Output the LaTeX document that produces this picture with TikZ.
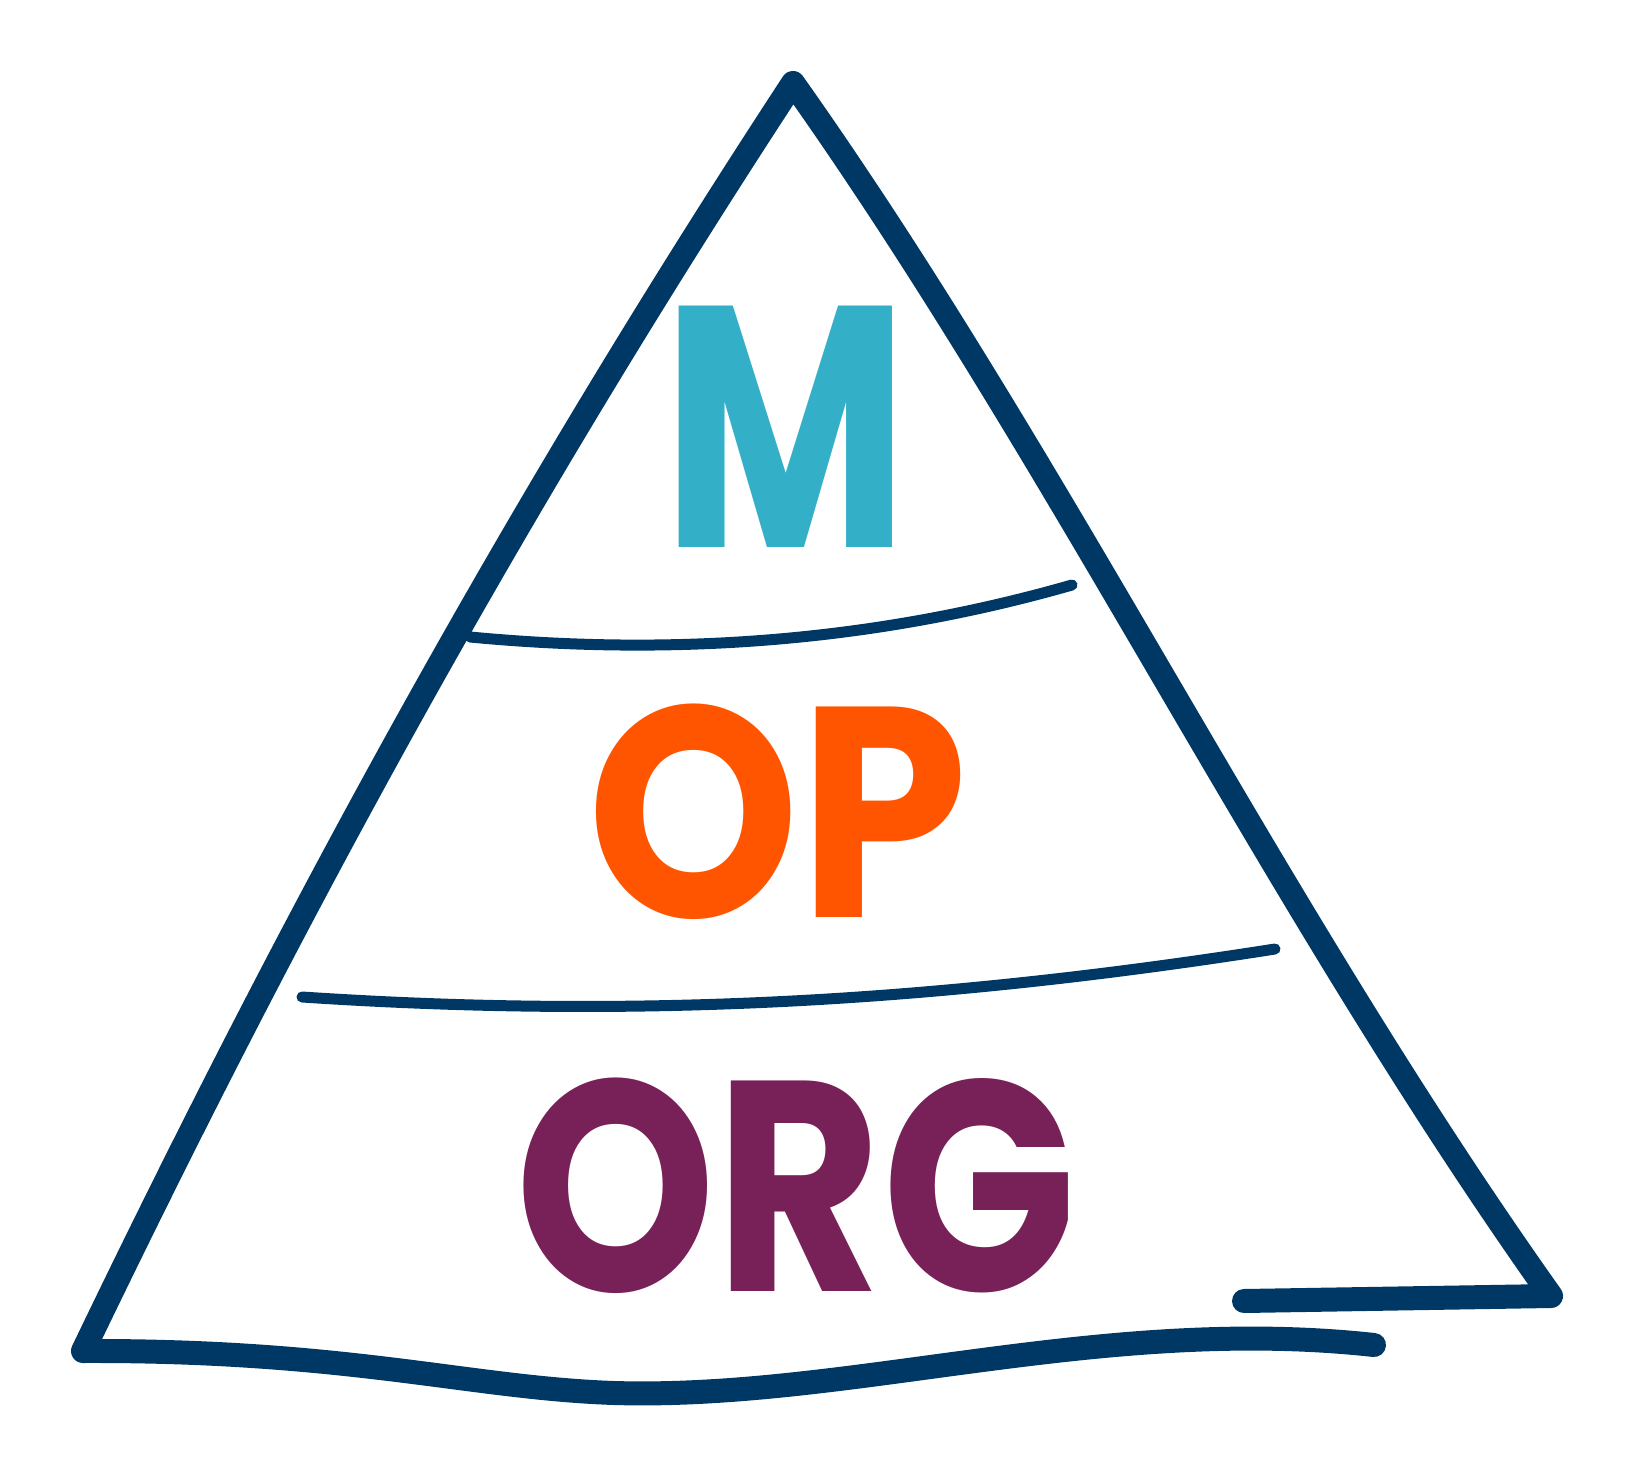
\documentclass[tikz,border=0pt]{standalone}
\usepackage{fontspec}
\setmainfont{Poppins}
\definecolor{navy}{HTML}{003865}
\definecolor{mteal}{HTML}{33AFC8}
\definecolor{morange}{HTML}{FF5500}
\definecolor{mpurple}{HTML}{782058}
\begin{document}
\begin{tikzpicture}[x=0.5pt,y=-0.5pt,
  edge/.style={draw=navy,line width=12pt,line cap=round,line join=round},
  divider/.style={draw=navy,line width=5.5pt,line cap=round},
  letters/.style={font=\bfseries\fontsize{150}{150}\selectfont,inner sep=0pt,anchor=center}]
\useasboundingbox (0,0) rectangle (1632,1475);
\coordinate (tipA) at (1244,1301);
\coordinate (right) at (1551,1296);
\coordinate (apex) at (793,83);
\coordinate (left) at (83,1351);
\coordinate (tipB) at (1374,1345);
\draw[edge] (tipA) -- (right)
  .. controls (1270,900) and (1060,460) .. (apex)
  .. controls (520,500) and (300,900) .. (left)
  .. controls (350,1350) and (470,1388) .. (614,1393)
  .. controls (850,1400) and (1100,1315) .. (tipB);
\coordinate (l1a) at (470,637);
\coordinate (l1b) at (1072,585);
\draw[divider] (l1a) .. controls (680,657) and (880,640) .. (l1b);
\coordinate (l2a) at (302,997);
\coordinate (l2b) at (1275,949);
\draw[divider] (l2a) .. controls (650,1020) and (950,1000) .. (l2b);
\node[letters,text=mteal,font=\bfseries\fontsize{172}{172}\selectfont,xscale=0.78] (m) at (786,427) {M};
\node[letters,text=morange,xscale=0.9] (op) at (778,812) {OP};
\node[letters,text=mpurple,xscale=0.85] (org) at (796,1186) {ORG};
\end{tikzpicture}
\end{document}
